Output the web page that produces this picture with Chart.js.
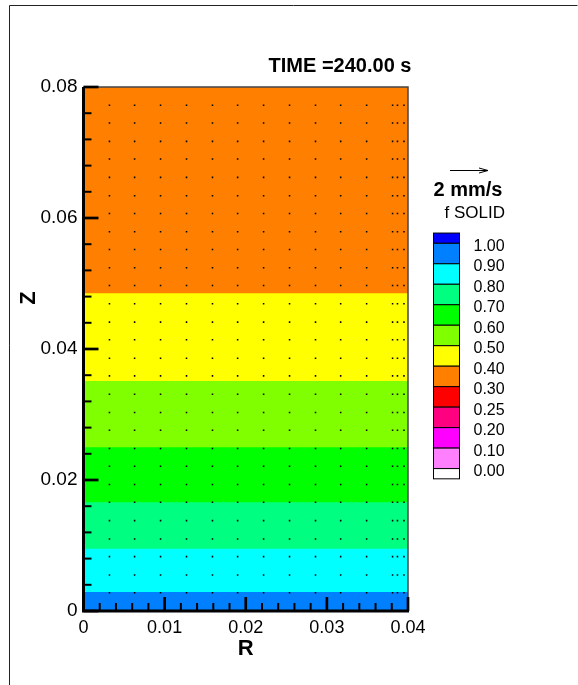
<!DOCTYPE html>
<html>
<head>
<meta charset="utf-8">
<script src="https://cdn.jsdelivr.net/npm/chart.js@4.4.0/dist/chart.umd.min.js"></script>
<style>
  html, body { margin: 0; padding: 0; background: #fff; }
  #wrap { width: 578px; height: 685px; }
</style>
</head>
<body>
<div id="wrap"><canvas id="c" width="578" height="685"></canvas></div>
<script>
// f SOLID bands, bottom to top: upper edge of each band in Z
const bandTops = [0.0029, 0.0095, 0.0166, 0.0250, 0.0351, 0.0485, 0.08];
const bandColors = ["#0080ff", "#00ffff", "#00ff80", "#00ff00", "#80ff00", "#ffff00", "#ff8000"];

// velocity vector grid (velocities are ~0 so they show as dots)
const vectorR = [0.0032, 0.0063, 0.0095, 0.0127, 0.0159, 0.0190, 0.0222, 0.0254,
                 0.0286, 0.0317, 0.0349, 0.0381, 0.0387, 0.0395];
const vectorZ = [0.0028, 0.0055, 0.0083, 0.0110, 0.0138, 0.0166, 0.0193, 0.0221,
                 0.0248, 0.0276, 0.0303, 0.0331, 0.0359, 0.0386, 0.0414, 0.0441,
                 0.0469, 0.0497, 0.0524, 0.0552, 0.0579, 0.0607, 0.0634, 0.0662,
                 0.0690, 0.0717, 0.0745, 0.0772];

// axis ticks
const xTicks = [0, 0.01, 0.02, 0.03, 0.04];
const yTicks = [0, 0.02, 0.04, 0.06, 0.08];
const xMinorStep = 0.002;
const yMinorStep = 0.004;

// contour legend
const levelLabels = ["1.00", "0.90", "0.80", "0.70", "0.60", "0.50", "0.40", "0.30", "0.25", "0.20", "0.10", "0.00"];
const levelColors = ["#0000ff", "#0080ff", "#00ffff", "#00ff80", "#00ff00", "#80ff00",
                     "#ffff00", "#ff8000", "#ff0000", "#ff0080", "#ff00ff", "#ff80ff", "#ffffff"];

const FONT = "'Liberation Sans', Arial, sans-serif";

const bandDatasets = bandTops.map((top, i) => ({
  type: "line",
  data: [{ x: 0, y: top }, { x: 0.04, y: top }],
  backgroundColor: bandColors[i],
  borderColor: "rgba(0,0,0,0)",
  borderWidth: 0,
  pointRadius: 0,
  fill: "origin",
  order: 1,
}));

const vectorPoints = [];
vectorZ.forEach(z => vectorR.forEach(r => vectorPoints.push({ x: r, y: z })));

const decor = {
  id: "decor",
  beforeDraw(chart) {
    const ctx = chart.ctx;
    ctx.save();
    ctx.fillStyle = "#fff";
    ctx.fillRect(0, 0, chart.width, chart.height);
    // outer frame (top and left)
    ctx.strokeStyle = "#222";
    ctx.lineWidth = 1;
    ctx.beginPath();
    ctx.moveTo(9.5, chart.height);
    ctx.lineTo(9.5, 5.5);
    ctx.lineTo(577.5, 5.5);
    ctx.stroke();
    ctx.restore();
  },
  afterDatasetsDraw(chart) {
    const ctx = chart.ctx;
    const { left, right, top, bottom } = chart.chartArea;
    const xs = chart.scales.x, ys = chart.scales.y;
    ctx.save();
    // top / right edges
    ctx.strokeStyle = "#444";
    ctx.lineWidth = 1.5;
    ctx.beginPath();
    ctx.moveTo(left, top);
    ctx.lineTo(right, top);
    ctx.lineTo(right, bottom);
    ctx.stroke();
    // ticks, pointing inward
    ctx.strokeStyle = "#000";
    for (let v = 0; v <= 0.04 + 1e-9; v += xMinorStep) {
      const major = xTicks.some(t => Math.abs(t - v) < 1e-9);
      const px = xs.getPixelForValue(v);
      ctx.lineWidth = major ? 2.7 : 2;
      ctx.beginPath();
      ctx.moveTo(px, bottom);
      ctx.lineTo(px, bottom - (major ? 14 : 8));
      ctx.stroke();
    }
    for (let v = 0; v <= 0.08 + 1e-9; v += yMinorStep) {
      const major = yTicks.some(t => Math.abs(t - v) < 1e-9);
      const py = ys.getPixelForValue(v);
      ctx.lineWidth = major ? 2.7 : 2;
      ctx.beginPath();
      ctx.moveTo(left, py);
      ctx.lineTo(left + (major ? 15 : 8), py);
      ctx.stroke();
    }
    // thick left and bottom axes
    ctx.lineWidth = 3;
    ctx.beginPath();
    ctx.moveTo(left, top);
    ctx.lineTo(left, bottom);
    ctx.lineTo(right + 1, bottom);
    ctx.stroke();
    ctx.restore();
  },
  afterDraw(chart) {
    const ctx = chart.ctx;
    const { left, right } = chart.chartArea;
    ctx.save();
    ctx.fillStyle = "#000";
    ctx.textBaseline = "middle";

    // time label
    ctx.textAlign = "center";
    ctx.font = "bold 20px " + FONT;
    ctx.fillText("TIME =240.00 s", 340, 66);

    // axis titles
    ctx.font = "bold 22px " + FONT;
    ctx.fillText("R", (left + right) / 2, 649);
    ctx.save();
    ctx.translate(29, 298);
    ctx.rotate(-Math.PI / 2);
    ctx.fillText("Z", 0, 0);
    ctx.restore();

    // reference vector
    ctx.strokeStyle = "#000";
    ctx.lineWidth = 1;
    ctx.beginPath();
    ctx.moveTo(450, 170.5);
    ctx.lineTo(488, 170.5);
    ctx.moveTo(479, 168);
    ctx.lineTo(488, 170.5);
    ctx.lineTo(479, 173);
    ctx.stroke();
    ctx.font = "bold 20px " + FONT;
    ctx.fillText("2 mm/s", 468, 190);
    ctx.textAlign = "right";
    ctx.font = "17px " + FONT;
    ctx.fillText("f SOLID", 505, 213);

    // colour levels
    const bx = 433.5, bw = 26, step = 20.48, y0 = 243.3;
    ctx.lineWidth = 1;
    levelColors.forEach((c, i) => {
      let yTop, yBot;
      if (i === 0) { yTop = y0 - step / 2; yBot = y0; }
      else if (i === levelColors.length - 1) { yTop = y0 + step * (i - 1); yBot = yTop + step / 2; }
      else { yTop = y0 + step * (i - 1); yBot = yTop + step; }
      ctx.fillStyle = c;
      ctx.fillRect(bx, yTop, bw, yBot - yTop);
      ctx.strokeStyle = "#000";
      ctx.strokeRect(bx, yTop, bw, yBot - yTop);
    });
    ctx.fillStyle = "#000";
    ctx.textAlign = "left";
    ctx.font = "16px " + FONT;
    levelLabels.forEach((t, i) => {
      ctx.fillText(t, 473.5, y0 + step * i + 3);
    });
    ctx.restore();
  },
};

new Chart(document.getElementById("c"), {
  type: "scatter",
  data: {
    datasets: [
      {
        type: "scatter",
        data: vectorPoints,
        pointStyle: "rect",
        pointRadius: 1.1,
        backgroundColor: "#000",
        borderWidth: 0,
        order: 0,
      },
      ...bandDatasets,
    ],
  },
  options: {
    responsive: false,
    animation: false,
    events: [],
    layout: { padding: { left: 0, top: 87, right: 170, bottom: 0 } },
    plugins: { legend: { display: false }, tooltip: { enabled: false } },
    scales: {
      x: {
        type: "linear",
        min: 0,
        max: 0.04,
        afterBuildTicks: s => { s.ticks = xTicks.map(v => ({ value: v })); },
        afterFit: s => { s.height = 74; },
        grid: { display: false, drawTicks: false },
        border: { display: false },
        ticks: {
          color: "#000",
          padding: 6,
          maxRotation: 0,
          font: { family: FONT, size: 18 },
          callback: v => (v === 0 ? "0" : v.toFixed(2)),
        },
      },
      y: {
        type: "linear",
        min: 0,
        max: 0.08,
        afterBuildTicks: s => { s.ticks = yTicks.map(v => ({ value: v })); },
        afterFit: s => { s.width = 83.5; },
        grid: { display: false, drawTicks: false },
        border: { display: false },
        ticks: {
          color: "#000",
          padding: 6,
          font: { family: FONT, size: 19 },
          callback: v => (v === 0 ? "0" : v.toFixed(2)),
        },
      },
    },
  },
  plugins: [decor],
});
</script>
</body>
</html>
